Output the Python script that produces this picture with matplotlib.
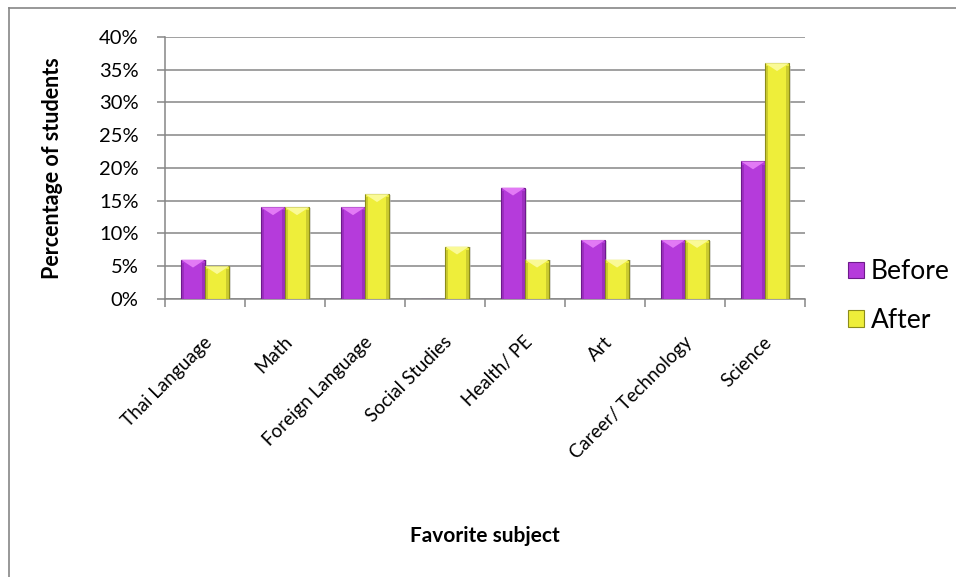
import numpy as np
import matplotlib.pyplot as plt
from matplotlib.patches import Polygon, Rectangle
from matplotlib.lines import Line2D
from matplotlib.ticker import PercentFormatter
from matplotlib.transforms import ScaledTranslation

plt.rcParams['font.family'] = ['Lato', 'DejaVu Sans']

subjects = ['Thai Language', 'Math', 'Foreign Language', 'Social Studies',
            'Health/ PE', 'Art', 'Career/ Technology', 'Science']
before = [6, 14, 14, 0, 17, 9, 9, 21]
after = [5, 14, 16, 8, 6, 6, 9, 36]

# face, edge, highlight colours for each series
styles = {
    'Before': ('#B53BDB', '#6E1A8C', '#E27AF5'),
    'After': ('#EEEE3A', '#8C8C1A', '#FAFA96'),
}

fig = plt.figure(figsize=(9.56, 5.77), dpi=100)
ax = fig.add_axes([0.1726, 0.4818, 0.6695, 0.4541])

x = np.arange(len(subjects))
w = 0.3


def bevel_bars(xpos, vals, name):
    face, edge, light = styles[name]
    bars = ax.bar(xpos, np.array(vals) / 100, w, color=face, edgecolor=edge,
                  linewidth=0.8, zorder=3, label=name)
    for b in bars:
        x0, y0 = b.get_x(), b.get_y()
        bw, bh = b.get_width(), b.get_height()
        if bh <= 0:
            continue
        # shadow to the right
        ax.add_patch(Rectangle((x0 + bw, y0), 0.025, bh * 0.99,
                               color='#bbbbbb', alpha=0.5, zorder=2, lw=0))
        # light triangle at the top edge of the bar
        th = min(bh, 0.012)
        ax.add_patch(Polygon([(x0, y0 + bh), (x0 + bw, y0 + bh),
                              (x0 + bw / 2, y0 + bh - th)],
                             closed=True, color=light, zorder=4, lw=0))
        # darker side bands
        ax.add_patch(Rectangle((x0, y0), bw * 0.12, bh - th * 0.4,
                               color=edge, alpha=0.35, zorder=4, lw=0))
        ax.add_patch(Rectangle((x0 + bw * 0.88, y0), bw * 0.12, bh - th * 0.4,
                               color=edge, alpha=0.35, zorder=4, lw=0))
    return bars


bevel_bars(x - w / 2, before, 'Before')
bevel_bars(x + w / 2, after, 'After')

ax.set_xlim(-0.5, len(subjects) - 0.5)
ax.set_ylim(0, 0.40)
ax.set_yticks(np.arange(0, 0.401, 0.05))
ax.yaxis.set_major_formatter(PercentFormatter(1.0, decimals=0))
ax.yaxis.grid(True, color='#868686', linewidth=1.1, zorder=0)
ax.set_axisbelow(True)

ax.set_xticks(np.arange(-0.5, len(subjects), 1.0), minor=False)
ax.set_xticklabels([])
ax.set_xticks(x, minor=True)
ax.set_xticklabels(subjects, minor=True, rotation=45, ha='right',
                   va='center', rotation_mode='anchor', fontsize=13.5)
ax.tick_params(axis='x', which='minor', length=0, pad=29)
ax.tick_params(axis='x', which='major', length=6, width=1.1, color='#868686')
ax.tick_params(axis='y', length=6, width=1.1, color='#868686',
               labelsize=14.5, pad=13)
# nudge the slanted labels a little to the right
shift = ScaledTranslation(3 / 72, 0, fig.dpi_scale_trans)
for lab in ax.get_xticklabels(minor=True):
    lab.set_transform(lab.get_transform() + shift)

for s in ['top', 'right']:
    ax.spines[s].set_visible(False)
for s in ['left', 'bottom']:
    ax.spines[s].set_color('#868686')
    ax.spines[s].set_linewidth(1.1)

ax.set_ylabel('Percentage of students', fontsize=15.5, fontweight='bold')
ax.yaxis.set_label_coords(-0.159, 0.5)
fig.text(0.507, 0.071, 'Favorite subject', fontsize=15, fontweight='bold',
         ha='center', va='center')

ax.legend(loc='center left', bbox_to_anchor=(1.030, 0.011), frameon=False,
          fontsize=19, handlelength=0.6, handleheight=0.6,
          handletextpad=0.25, labelspacing=0.9)

# outer frame (left and top edges)
fig.add_artist(Line2D([0.0095, 0.0095], [0, 0.986], transform=fig.transFigure,
                      color='#868686', lw=1.2))
fig.add_artist(Line2D([0.0095, 1.0], [0.986, 0.986], transform=fig.transFigure,
                      color='#868686', lw=1.2))

fig.savefig('out.png', dpi=100)
